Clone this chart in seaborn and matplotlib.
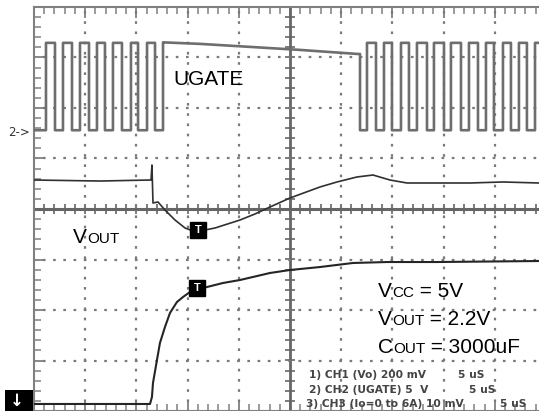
import numpy as np
import pandas as pd
import matplotlib
matplotlib.use("Agg")
import matplotlib.pyplot as plt
import seaborn as sns
from matplotlib.patches import Rectangle
from matplotlib.ticker import MultipleLocator
from matplotlib.transforms import offset_copy

# ---------------- data (time in microseconds, 5 us/div; vertical in screen divisions)
ugate_low = 1.56
ugate_high = 3.29
# transitions before the load step (first one is a rising edge)
ugate_edges_a = [-23.83, -22.95, -22.17, -21.29, -20.51, -19.63, -18.85, -18.07,
                 -17.29, -16.41, -15.53, -14.84, -13.96, -13.18, -12.40]
ugate_plateau_t = [-12.40, -8.8, -3.9, 1.0, 6.6]
ugate_plateau_v = [3.30, 3.27, 3.21, 3.15, 3.07]
# transitions after the plateau (first one is a falling edge)
ugate_edges_b = [6.84, 7.52, 8.40, 9.18, 9.96, 10.84, 11.62, 12.40, 13.38, 14.06,
                 15.04, 15.72, 16.70, 17.48, 18.36, 19.14, 19.92, 20.80, 21.58,
                 22.36, 23.14, 23.93]

vo_t = [-25.0, -18.55, -13.67, -13.57, -13.48, -13.38, -12.89, -12.21, -11.23,
        -10.25, -9.47, -8.30, -7.32, -4.88, -3.42, -1.95, 0.0, 2.93, 4.59, 6.54,
        8.11, 9.77, 11.43, 14.36, 17.58, 20.80, 24.32]
vo_v = [0.574, 0.554, 0.574, 0.574, 0.871, 0.119, 0.139, -0.020, -0.218, -0.376,
        -0.436, -0.416, -0.376, -0.218, -0.099, 0.040, 0.218, 0.436, 0.535, 0.634,
        0.673, 0.574, 0.515, 0.515, 0.515, 0.535, 0.515]

io_t = [-25.0, -13.67, -13.48, -13.38, -12.99, -12.70, -12.21, -11.72, -11.04,
        -10.45, -9.77, -8.11, -6.54, -4.88, -1.95, 0.0, 2.93, 6.15, 9.47, 14.36, 24.32]
io_v = [-3.861, -3.861, -3.723, -3.446, -2.990, -2.653, -2.337, -2.059, -1.842,
        -1.743, -1.644, -1.545, -1.465, -1.406, -1.267, -1.208, -1.149, -1.069,
        -1.050, -1.050, -1.030]

trig_t = [-8.98, -9.08]
trig_v = [-0.42, -1.56]

info_lines = ["1) CH1 (Vo) 200 mV", "2) CH2 (UGATE) 5  V", "3) CH3 (Io=0 to 6A) 10 mV"]
info_time = ["5 uS", "5 uS", "5 uS"]

# ---------------- build UGATE step path from edges
ts, vs = [-25.0], [ugate_low]
level = ugate_low
for i, e in enumerate(ugate_edges_a):
    new = ugate_high if i % 2 == 0 else ugate_low
    ts += [e, e]
    vs += [level, new]
    level = new
ts += ugate_plateau_t
vs += ugate_plateau_v
level = ugate_plateau_v[-1]
for i, e in enumerate(ugate_edges_b):
    new = ugate_low if i % 2 == 0 else ugate_high
    ts += [e, e]
    vs += [level, new]
    level = new
ts.append(25.0)
vs.append(level)
ugate_df = pd.DataFrame({"t": ts, "v": vs})
vo_df = pd.DataFrame({"t": vo_t, "v": vo_v})
io_df = pd.DataFrame({"t": io_t, "v": io_v})

# ---------------- figure
sns.set_theme(style="white")
plt.rcParams["font.family"] = ["Liberation Sans", "DejaVu Sans"]
W, H = 539, 411
fig = plt.figure(figsize=(W / 100, H / 100), dpi=100)
fig.patch.set_facecolor("white")
ax = fig.add_axes([34 / W, 0, 505 / W, 404 / H])
ax.set_facecolor("white")
ax.set_xlim(-25, 24.32)
ax.set_ylim(-4, 4)

grid_c = "#808080"
for side in ["left", "top", "bottom"]:
    ax.spines[side].set_color(grid_c)
    ax.spines[side].set_linewidth(1.5)
ax.spines["right"].set_visible(False)
ax.xaxis.set_major_locator(MultipleLocator(5))
ax.xaxis.set_minor_locator(MultipleLocator(1))
ax.yaxis.set_major_locator(MultipleLocator(1))
ax.yaxis.set_minor_locator(MultipleLocator(0.2))
ax.tick_params(which="both", direction="in", top=True, bottom=True, left=True,
               right=False, labelbottom=False, labelleft=False, color=grid_c)
ax.tick_params(which="major", length=8, width=1.3)
ax.tick_params(which="minor", length=5, width=1.1)

# dotted graticule (short dashes along every division line)
dot_c = "#7a7a7a"
for xv in [-20, -15, -10, -5, 5, 10, 15, 20]:
    ax.axvline(xv, color=dot_c, lw=1.6, ls=(0.6, (1.2, 3.4)), zorder=2)
for yv in [-3, -2, -1, 1, 2, 3]:
    ax.axhline(yv, color=dot_c, lw=1.6, ls=(0.6, (1.2, 3.4)), zorder=2)

# center cross with ticks
xdots = np.arange(-25, 25.001, 1.0)
ydots = np.arange(-4, 4.001, 0.2)
ax.axhline(0, color="#666666", lw=2.2, zorder=1.5)
ax.axvline(0, color="#666666", lw=2.0, zorder=1.5)
ax.plot(xdots, np.zeros_like(xdots), ls="none", marker="|", ms=7, mew=1.2,
        color="#666666", zorder=1.5)
ax.plot(np.zeros_like(ydots), ydots, ls="none", marker="_", ms=7, mew=1.2,
        color="#666666", zorder=1.5)

# traces
sns.lineplot(data=ugate_df, x="t", y="v", sort=False, estimator=None, ax=ax,
             color="#6e6e6e", lw=1.9, zorder=3)
sns.lineplot(data=vo_df, x="t", y="v", sort=False, estimator=None, ax=ax,
             color="#303030", lw=1.2, zorder=3)
sns.lineplot(data=io_df, x="t", y="v", sort=False, estimator=None, ax=ax,
             color="#252525", lw=1.5, zorder=3)
ax.set_xlabel("")
ax.set_ylabel("")

# trigger markers
ax.plot(trig_t, trig_v, ls="none", marker="s", ms=11, color="black", zorder=4)
for tx, tv in zip(trig_t, trig_v):
    ax.text(tx, tv, "T", color="white", fontsize=8, fontweight="bold",
            ha="center", va="center", zorder=5)

# rich labels (large capital + small caps on same baseline)
renderer = fig.canvas.get_renderer()


def rich(x, y, parts):
    dx = 0.0
    for s, fs in parts:
        tr = offset_copy(ax.transData, fig=fig, x=dx, y=0, units="dots")
        t = ax.text(x, y, s, fontsize=fs, transform=tr, ha="left", va="baseline",
                    color="black", zorder=6)
        dx += t.get_window_extent(renderer).width


BIG, SMALL = 15, 11
rich(-11.43, 2.455, [("UGATE", BIG)])
rich(-21.19, -0.673, [("V", BIG), ("OUT", SMALL)])
rich(8.59, -1.743, [("V", BIG), ("CC", SMALL), (" = 5V", BIG)])
rich(8.59, -2.297, [("V", BIG), ("OUT", SMALL), (" = 2.2V", BIG)])
rich(8.59, -2.851, [("C", BIG), ("OUT", SMALL), (" = 3000uF", BIG)])

# scope info text
info_y = [378, 393, 407]
info_x = [309, 309, 306]
time_x = [458, 469, 500]
for s, ttxt, py, px, tx in zip(info_lines, info_time, info_y, info_x, time_x):
    fig.text(px / W, 1 - py / H, s, fontsize=7.7, fontweight="bold", color="#444444",
             ha="left", va="baseline", family="DejaVu Sans")
    fig.text(tx / W, 1 - py / H, ttxt, fontsize=7.7, fontweight="bold", color="#444444",
             ha="left", va="baseline", family="DejaVu Sans")

# channel markers outside the graticule
fig.text(8 / W, 1 - 133 / H, "2->", fontsize=8.5, color="#333333", ha="left",
         va="center", family="DejaVu Sans")
fig.patches.append(Rectangle((5 / W, 0), 28 / W, 21 / H, transform=fig.transFigure,
                             facecolor="black", edgecolor="none"))
fig.text(17 / W, 10 / H, "↓", fontsize=12, color="white", fontweight="bold",
         ha="center", va="center", family="DejaVu Sans")

fig.savefig("out.png", dpi=100, facecolor="white")
